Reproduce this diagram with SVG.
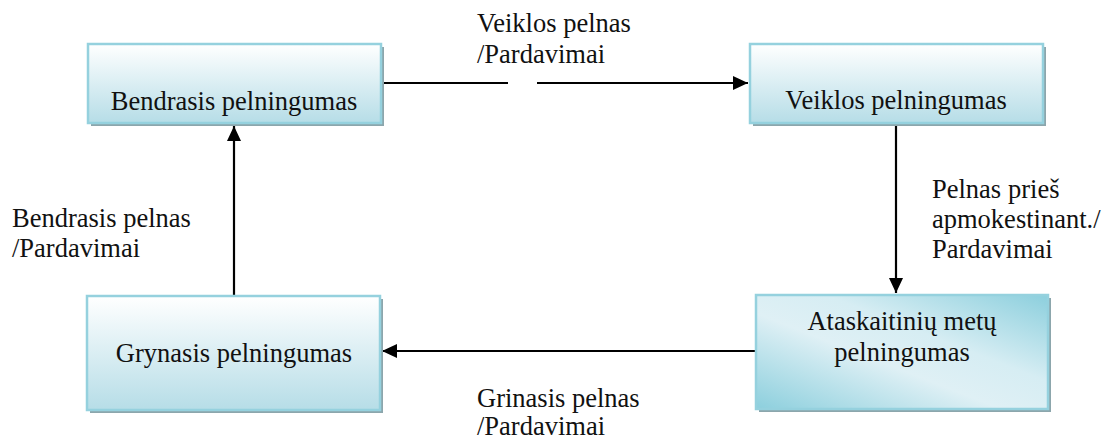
<svg xmlns="http://www.w3.org/2000/svg" width="1106" height="441" viewBox="0 0 1106 441">
<style>
.c{text-anchor:middle}
.sh{fill:#8ca6ac}
.box{stroke:#95d1de;stroke-width:2.5}
.ln{stroke:#000;stroke-width:2.2;fill:none}
</style>
<defs>
<linearGradient id="gv" x1="0" y1="0" x2="0" y2="1">
<stop offset="0" stop-color="#ffffff"/>
<stop offset="1" stop-color="#b6dde7"/>
</linearGradient>
<linearGradient id="gd" x1="0" y1="1" x2="1" y2="0">
<stop offset="0" stop-color="#8ccfdd"/>
<stop offset="0.42" stop-color="#dff0f5"/>
<stop offset="0.62" stop-color="#d6edf3"/>
<stop offset="1" stop-color="#8ccfdd"/>
</linearGradient>
<marker id="ah" markerUnits="userSpaceOnUse" markerWidth="16" markerHeight="16" refX="15" refY="7" orient="auto">
<path d="M0,0 L15,7 L0,14 z" fill="#000"/>
</marker>
</defs>
<g id="connectors">
<path class="ln" d="M381,83 H508"/>
<path class="ln" d="M537,83 H748" marker-end="url(#ah)"/>
<path class="ln" d="M896,126 V293" marker-end="url(#ah)"/>
<path class="ln" d="M756,351 H382" marker-end="url(#ah)"/>
<path class="ln" d="M234,304 V126" marker-end="url(#ah)"/>
</g>
<g font-family="Liberation Serif" font-size="26.5" fill="#111">
<g id="n1">
<rect class="sh" x="91" y="47" width="293" height="79"/>
<rect class="box" x="88" y="44" width="293" height="79" fill="url(#gv)"/>
<text class="c" x="234" y="110">Bendrasis pelningumas</text>
</g>
<g id="n2">
<rect class="sh" x="753" y="47" width="293" height="79"/>
<rect class="box" x="750" y="44" width="293" height="79" fill="url(#gv)"/>
<text class="c" x="896" y="109">Veiklos pelningumas</text>
</g>
<g id="n3">
<rect class="sh" x="90" y="299" width="293" height="114"/>
<rect class="box" x="87" y="296" width="293" height="114" fill="url(#gv)"/>
<text class="c" x="234" y="362">Grynasis pelningumas</text>
</g>
<g id="n4">
<rect class="sh" x="759" y="298" width="292" height="114"/>
<rect class="box" x="756" y="295" width="292" height="114" fill="url(#gd)"/>
<text class="c" x="902" y="330">Ataskaitinių metų</text>
<text class="c" x="902" y="361">pelningumas</text>
</g>
<g id="labels">
<text x="477" y="32">Veiklos pelnas</text>
<text x="477" y="63">/Pardavimai</text>
<text x="12" y="227">Bendrasis pelnas</text>
<text x="12" y="257">/Pardavimai</text>
<text x="932" y="198">Pelnas</text>
<text x="1008" y="198">prieš</text>
<text x="932" y="228">apmokestinant./</text>
<text x="932" y="258">Pardavimai</text>
<text x="477" y="407">Grinasis pelnas</text>
<text x="477" y="435">/Pardavimai</text>
</g>
</g>
</svg>
